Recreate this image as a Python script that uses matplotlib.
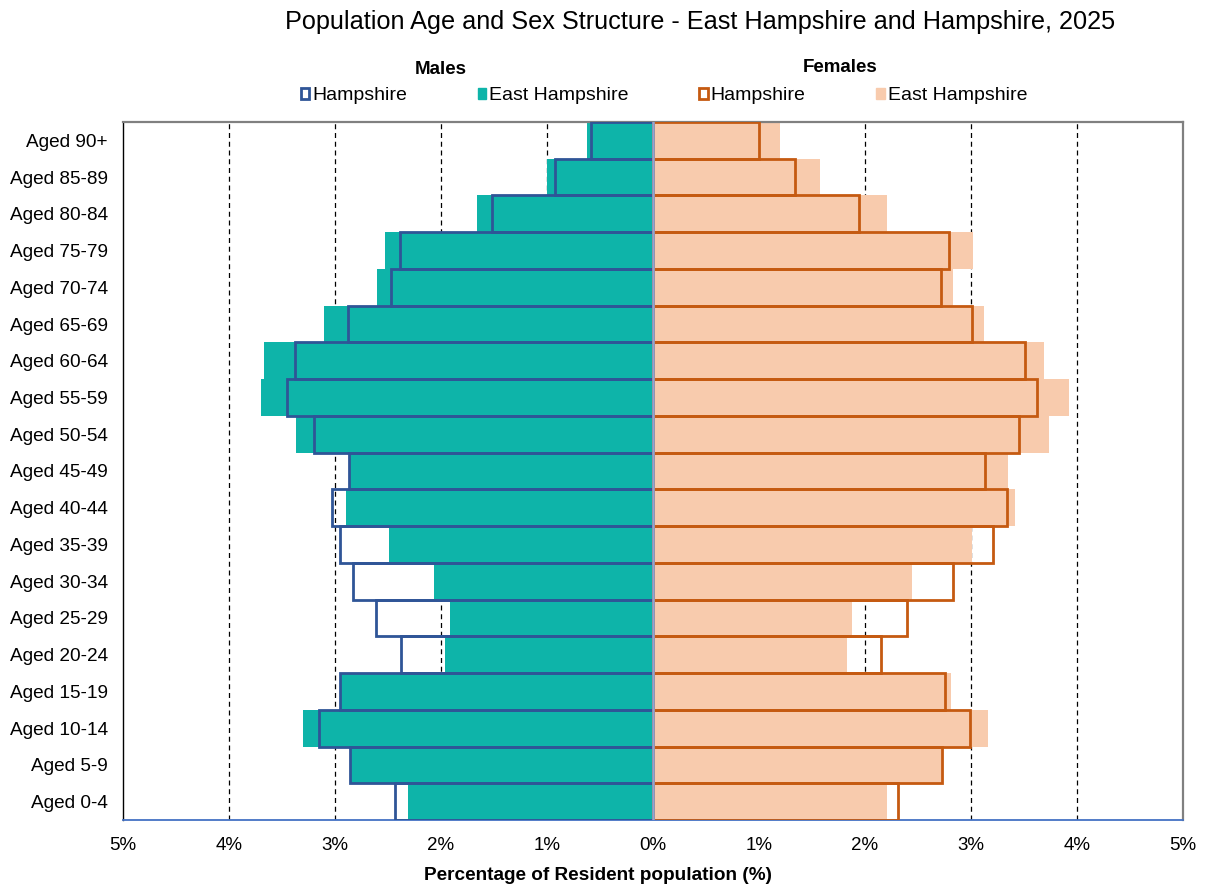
import numpy as np
import matplotlib
matplotlib.use("Agg")
import matplotlib.pyplot as plt
from matplotlib.patches import Patch

plt.rcParams["font.family"] = ["Liberation Sans", "DejaVu Sans"]

# data (% of resident population), youngest to oldest
ages = [
    "Aged 0-4", "Aged 5-9", "Aged 10-14", "Aged 15-19", "Aged 20-24",
    "Aged 25-29", "Aged 30-34", "Aged 35-39", "Aged 40-44", "Aged 45-49",
    "Aged 50-54", "Aged 55-59", "Aged 60-64", "Aged 65-69", "Aged 70-74",
    "Aged 75-79", "Aged 80-84", "Aged 85-89", "Aged 90+"
]

male_east = [2.31, 2.86, 3.30, 2.95, 1.96, 1.91, 2.07, 2.49, 2.90, 2.86,
             3.37, 3.70, 3.67, 3.10, 2.60, 2.53, 1.66, 1.00, 0.62]
male_hants = [2.43, 2.86, 3.15, 2.95, 2.38, 2.61, 2.83, 2.95, 3.03, 2.87,
              3.20, 3.45, 3.38, 2.88, 2.47, 2.39, 1.52, 0.92, 0.58]
female_east = [2.21, 2.73, 3.16, 2.81, 1.83, 1.88, 2.44, 3.01, 3.42, 3.35,
               3.74, 3.93, 3.69, 3.12, 2.83, 3.02, 2.21, 1.58, 1.20]
female_hants = [2.31, 2.73, 2.99, 2.76, 2.15, 2.40, 2.83, 3.21, 3.34, 3.13,
                3.45, 3.62, 3.51, 3.01, 2.72, 2.79, 1.94, 1.34, 1.00]

x_ticks = [-5, -4, -3, -2, -1, 0, 1, 2, 3, 4, 5]
x_tick_labels = ["5%", "4%", "3%", "2%", "1%", "0%", "1%", "2%", "3%", "4%", "5%"]

TEAL = "#0EB4A9"
PEACH = "#F8CBAD"
BLUE = "#2F5597"
ORANGE = "#C55A11"

fig = plt.figure(figsize=(12.08, 8.89), dpi=100)
ax = fig.add_axes([0.1018, 0.0776, 0.8774, 0.7852])

y = np.arange(len(ages))

# grid
for gx in [-4, -3, -2, -1, 1, 2, 3, 4]:
    ax.axvline(gx, color="black", lw=0.9, ls=(0, (4, 3)), zorder=0)

ax.barh(y, -np.array(male_east), height=1.0, color=TEAL, zorder=2)
ax.barh(y, female_east, height=1.0, color=PEACH, zorder=2)

ax.barh(y, -np.array(male_hants), height=1.0, fill=False,
        edgecolor=BLUE, lw=2.0, zorder=3)
ax.barh(y, female_hants, height=1.0, fill=False,
        edgecolor=ORANGE, lw=2.0, zorder=3)

ax.axvline(0, color="#8EA6D8", lw=1.8, zorder=4)

ax.set_xlim(-5, 5)
ax.set_ylim(-0.5, len(ages) - 0.5)
ax.set_xticks(x_ticks)
ax.set_xticklabels(x_tick_labels, fontsize=13.5)
ax.set_yticks(y)
ax.set_yticklabels(ages, fontsize=13.7)
ax.tick_params(axis="both", length=0)
ax.tick_params(axis="x", pad=12)
ax.tick_params(axis="y", pad=11)

ax.spines["left"].set_color("black")
ax.spines["left"].set_linewidth(1.0)
ax.spines["top"].set_color("#808080")
ax.spines["top"].set_linewidth(1.6)
ax.spines["right"].set_color("#808080")
ax.spines["right"].set_linewidth(1.6)
ax.spines["bottom"].set_color("#4472C4")
ax.spines["bottom"].set_linewidth(1.3)

fig.text(700 / 1208, 1 - 22 / 889, "Population Age and Sex Structure - East Hampshire and Hampshire, 2025",
         ha="center", va="center", fontsize=18.2)

fig.text(441 / 1208, 1 - 70 / 889, "Males", ha="center", va="center",
         fontsize=13.5, fontweight="bold")
fig.text(840 / 1208, 1 - 67 / 889, "Females", ha="center", va="center",
         fontsize=13.5, fontweight="bold")

handles = [
    Patch(facecolor="white", edgecolor=BLUE, lw=2.0, label="Hampshire"),
    Patch(facecolor=TEAL, edgecolor=TEAL, label="East Hampshire"),
    Patch(facecolor="white", edgecolor=ORANGE, lw=2.0, label="Hampshire"),
    Patch(facecolor=PEACH, edgecolor=PEACH, label="East Hampshire"),
]
fig.legend(handles=handles, ncol=4, loc="center",
           bbox_to_anchor=(664 / 1208, 1 - 96 / 889),
           frameon=False, fontsize=14, handlelength=0.45, handleheight=0.45,
           handletextpad=0.15, columnspacing=3.62, borderpad=0)

fig.text(598 / 1208, 1 - 876 / 889, "Percentage of Resident population (%)",
         ha="center", va="center", fontsize=13.7, fontweight="bold")

fig.savefig("out.png", dpi=100)
